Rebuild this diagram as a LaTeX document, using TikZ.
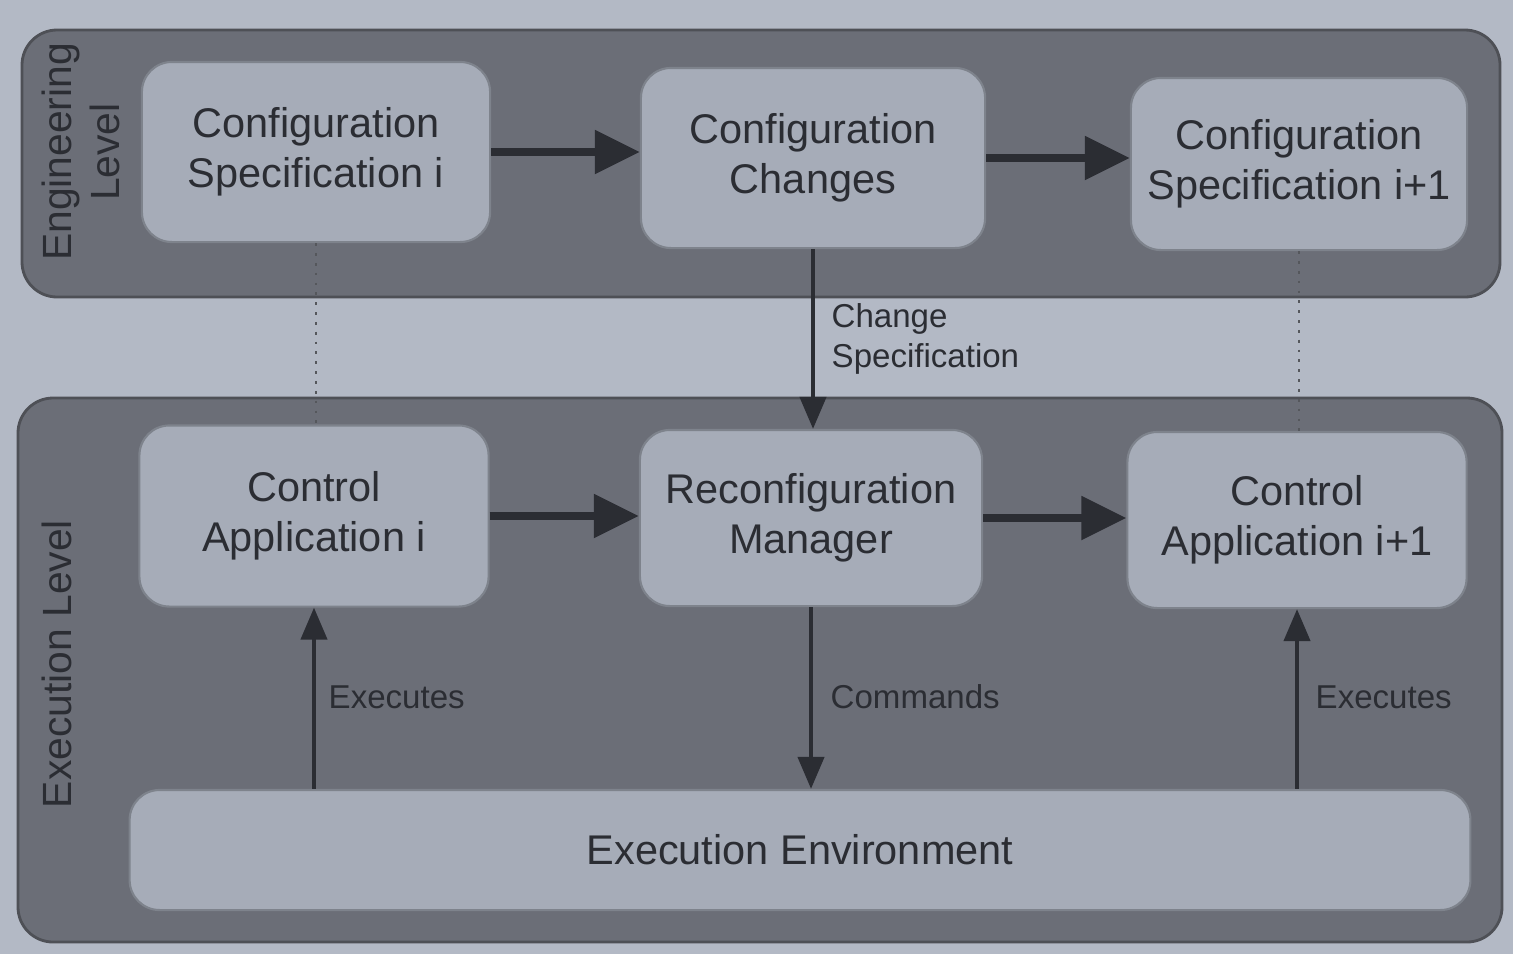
\documentclass[tikz,border=0pt]{standalone}
\usepackage{fontspec}
\setmainfont{Liberation Sans}
\usetikzlibrary{arrows.meta,calc}
\definecolor{paper}{HTML}{B3B9C5}
\definecolor{panelfill}{HTML}{6B6E77}
\definecolor{paneledge}{HTML}{4E5056}
\definecolor{boxfill}{HTML}{A6ACB8}
\definecolor{boxedge}{HTML}{7E838C}
\definecolor{ink}{HTML}{2B2D33}
\tikzset{
  px/.style={x=0.01cm,y=-0.01cm},
  panel/.style={fill=panelfill,draw=paneledge,line width=0.8pt,rounded corners=0.35cm},
  stage/.style={fill=boxfill,draw=boxedge,line width=0.6pt,rounded corners=0.3cm,
    text=ink,align=center,inner sep=0pt,font=\fontsize{11.8}{14.2}\selectfont},
  flow/.style={draw=ink,line width=2.4pt,-{Triangle[length=0.45cm,width=0.42cm]}},
  link/.style={draw=ink,line width=1.2pt,-{Triangle[length=0.32cm,width=0.26cm]}},
  trace/.style={draw=ink!80,line width=0.8pt,dotted},
  tag/.style={text=ink,align=left,anchor=west,inner sep=0pt,font=\fontsize{9.4}{11.4}\selectfont},
  level/.style={text=ink,align=center,rotate=90,inner sep=0pt,font=\fontsize{11.6}{13.5}\selectfont}
}
\begin{document}
\begin{tikzpicture}[px]
\fill[paper] (0,0) rectangle (1513,954);
\useasboundingbox (0,0) rectangle (1513,954);
% level panels
\draw[panel] (22,30) rectangle (1500,297);
\draw[panel] (18,398) rectangle (1502,942);
\node[level] (englbl) at (81,152) {Engineering\\Level};
\node[level] (exelbl) at (57,664) {Execution Level};
% engineering stages
\node[stage,minimum width=3.48cm,minimum height=1.80cm] (cs1) at (316,152) {Configuration\\Specification i};
\node[stage,minimum width=3.44cm,minimum height=1.80cm] (cc) at (813,158) {Configuration\\Changes};
\node[stage,minimum width=3.36cm,minimum height=1.72cm] (cs2) at (1299,164) {Configuration\\Specification i+1};
% execution stages
\node[stage,minimum width=3.49cm,minimum height=1.81cm] (ca1) at (314,516) {Control\\Application i};
\node[stage,minimum width=3.42cm,minimum height=1.76cm] (rm) at (811,518) {Reconfiguration\\Manager};
\node[stage,minimum width=3.39cm,minimum height=1.76cm] (ca2) at (1297,520) {Control\\Application i+1};
\node[stage,minimum width=13.40cm,minimum height=1.20cm] (env) at (800,850) {Execution Environment};
% horizontal flow
\draw[flow] (cs1.east) -- (cs1.east -| cc.west);
\draw[flow] (cc.east) -- (cc.east -| cs2.west);
\draw[flow] (ca1.east) -- (ca1.east -| rm.west);
\draw[flow] (rm.east) -- (rm.east -| ca2.west);
% correspondence between levels
\draw[trace] (cs1.south) -- (cs1.south |- ca1.north);
\draw[trace] (cs2.south) -- (cs2.south |- ca2.north);
% vertical links
\draw[link] (cc.south) -- (cc.south |- rm.north);
\node[tag] (chg) at (831,339) {Change\\Specification};
\draw[link] (env.north -| ca1.south) -- (ca1.south);
\node[tag] (ex1) at (328,697) {Executes};
\draw[link] (rm.south) -- (rm.south |- env.north);
\node[tag] (cmd) at (830,697) {Commands};
\draw[link] (env.north -| ca2.south) -- (ca2.south);
\node[tag] (ex2) at (1315,697) {Executes};
\end{tikzpicture}
\end{document}
